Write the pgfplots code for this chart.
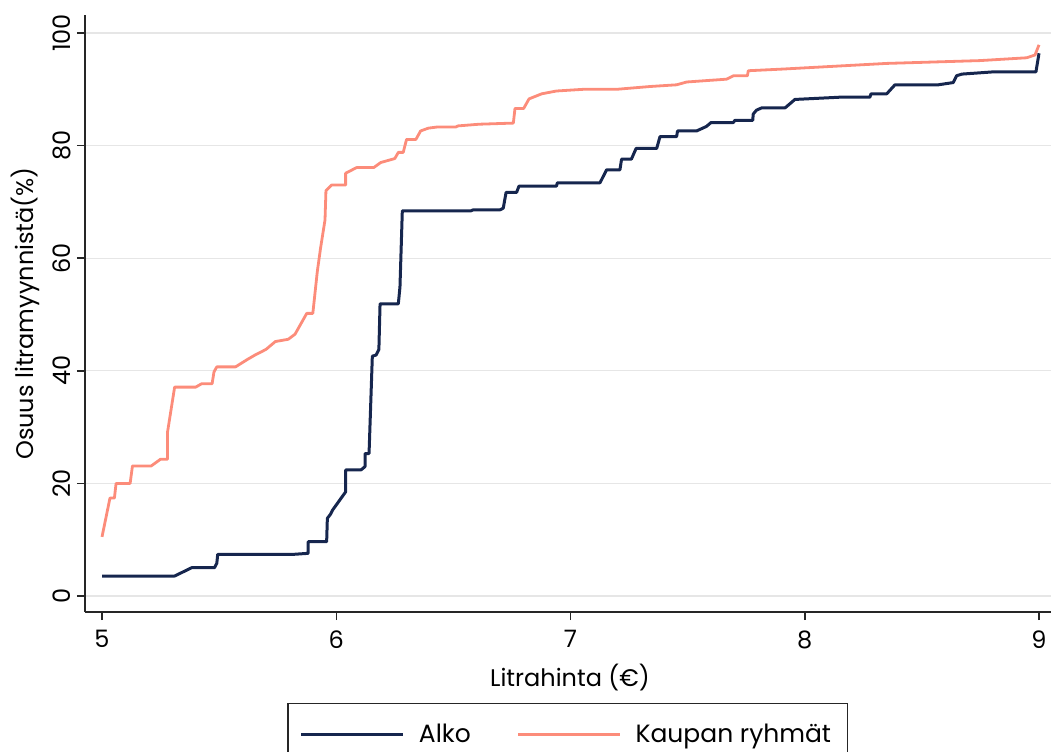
\documentclass[border=0pt]{standalone}
\usepackage{fontspec}
\setmainfont{Poppins}
\usepackage{pgfplots}
\pgfplotsset{compat=1.18}
\definecolor{alko}{HTML}{16264E}
\definecolor{kauppa}{HTML}{FC8C7A}
\definecolor{gridgray}{HTML}{E6E6E6}
\begin{document}
\begin{tikzpicture}[font=\fontsize{12}{14}\selectfont]
\begin{axis}[
    at={(42.5pt,69.5pt)}, anchor=south west,
    scale only axis,
    width=483pt, height=298.5pt,
    xmin=4.9274, xmax=9.0512,
    ymin=-2.84, ymax=103.2,
    axis x line*=bottom, axis y line*=left,
    axis line style={line width=0.75pt, color=black!85},
    xtick={5,6,7,8,9}, ytick={0,20,40,60,80,100},
    tick align=outside, major tick length=4pt,
    tick style={line width=0.75pt, color=black!85},
    ymajorgrids, grid style={gridgray, line width=0.6pt},
    /pgf/number format/assume math mode=true,
    yticklabel style={rotate=90, anchor=south, inner sep=3pt},
    xticklabel style={inner sep=5pt},
    xlabel={Litrahinta (€)},
    ylabel={Osuus litramyynnistä(\%)},
    xlabel style={at={(axis description cs:0.502,-0.109)}, anchor=center},
    ylabel style={at={(axis description cs:-0.062,0.5)}, anchor=center},
    legend columns=2,
    legend style={at={(axis description cs:0.4995,-0.1524)}, anchor=north,
        draw=black!85, line width=0.6pt, inner xsep=6pt, inner ysep=8pt,
        font=\fontsize{12.5}{14}\selectfont,
        /tikz/every odd column/.append style={column sep=5pt},
        /tikz/every even column/.append style={column sep=21pt},
        cells={anchor=west}},
    legend image code/.code={\draw[#1] (0pt,0pt) -- (51pt,0pt);},
]
\addplot[alko, line width=1.5pt, line join=round] coordinates {
    (5.0,3.55) (5.31,3.55) (5.383,5.03) (5.48,5.03) (5.49,5.8) (5.494,7.4)
    (5.817,7.4) (5.88,7.58) (5.88,9.65) (5.959,9.65) (5.962,13.8) (5.975,14.5)
    (5.985,15.3) (6.04,18.5) (6.04,22.4) (6.106,22.4) (6.123,23.0) (6.123,25.3)
    (6.14,25.3) (6.154,42.6) (6.17,42.8) (6.182,43.8) (6.187,51.9) (6.265,51.9)
    (6.272,54.9) (6.282,68.4) (6.574,68.4) (6.585,68.6) (6.70,68.6) (6.713,68.9)
    (6.725,71.7) (6.77,71.7) (6.78,72.8) (6.94,72.8) (6.944,73.4) (7.126,73.4)
    (7.154,75.7) (7.211,75.7) (7.218,77.6) (7.26,77.6) (7.28,79.5) (7.368,79.5)
    (7.382,81.6) (7.453,81.6) (7.457,82.6) (7.538,82.6) (7.58,83.4) (7.60,84.1)
    (7.695,84.1) (7.702,84.5) (7.778,84.5) (7.78,85.6) (7.794,86.3) (7.816,86.7)
    (7.916,86.7) (7.958,88.2) (8.15,88.6) (8.278,88.6) (8.283,89.2) (8.35,89.2)
    (8.385,90.8) (8.57,90.8) (8.634,91.2) (8.648,92.4) (8.67,92.7) (8.805,93.1)
    (8.987,93.1) (9.0,96.4)
};
\addlegendentry{Alko}
\addplot[kauppa, line width=1.4pt, line join=round] coordinates {
    (5.0,10.5) (5.034,17.4) (5.053,17.4) (5.06,20.0) (5.12,20.0) (5.13,23.1)
    (5.21,23.1) (5.25,24.3) (5.28,24.3) (5.28,29.2) (5.31,37.1) (5.40,37.1)
    (5.425,37.7) (5.47,37.7) (5.478,39.8) (5.49,40.7) (5.57,40.7) (5.62,42.0)
    (5.653,42.8) (5.70,43.8) (5.74,45.2) (5.795,45.6) (5.824,46.5) (5.874,50.2)
    (5.90,50.2) (5.919,57.6) (5.933,61.8) (5.952,66.8) (5.956,72.0) (5.98,73.0)
    (6.04,73.0) (6.04,75.1) (6.087,76.1) (6.16,76.1) (6.19,77.0) (6.25,77.7)
    (6.265,78.8) (6.286,78.8) (6.30,81.1) (6.34,81.1) (6.36,82.6) (6.393,83.1)
    (6.43,83.3) (6.51,83.3) (6.52,83.5) (6.61,83.8) (6.756,84.0) (6.763,86.6)
    (6.80,86.6) (6.823,88.3) (6.877,89.2) (6.94,89.7) (7.055,90.0) (7.197,90.0)
    (7.34,90.5) (7.453,90.8) (7.496,91.3) (7.666,91.8) (7.695,92.4) (7.755,92.4)
    (7.759,93.3) (7.908,93.6) (8.35,94.6) (8.748,95.1) (8.947,95.6) (8.983,96.1)
    (9.0,97.9)
};
\addlegendentry{Kaupan ryhmät}
\end{axis}
\pgfresetboundingbox
\useasboundingbox (0,0) rectangle (525.5pt,375.5pt);
\end{tikzpicture}
\end{document}
